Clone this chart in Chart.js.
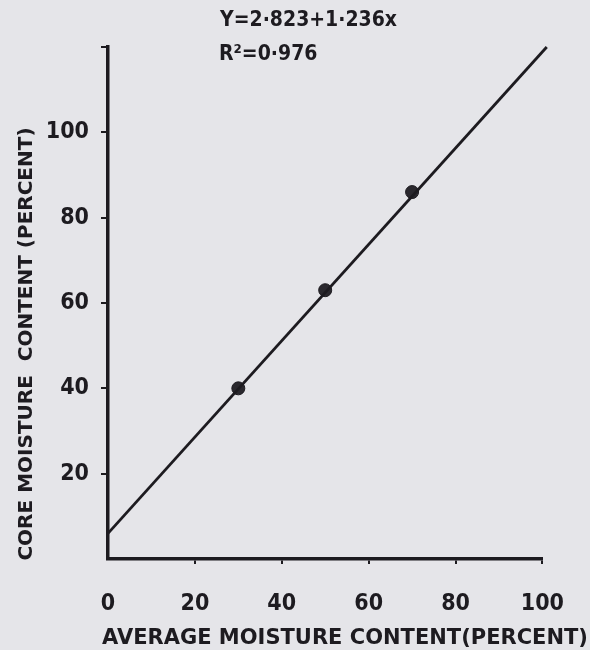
<!DOCTYPE html>
<html lang="en">
<head>
  <meta charset="UTF-8">
  <title>Core vs average moisture content</title>
  <script src="https://cdn.jsdelivr.net/npm/chart.js"></script>
  <style>
    html, body { margin: 0; padding: 0; background: #e5e5e9; }
    #wrap { width: 590px; height: 650px; }
  </style>
</head>
<body>
  <div id="wrap"><canvas id="moistChart" width="590" height="650"></canvas></div>
  <script>
    // observed points (average vs core moisture, percent)
    const avgMoisture = [30, 50, 70];
    const coreMoisture = [40, 63, 86];
    // fitted line as drawn on the figure
    const fitX = [0, 101];
    const fitY = [6, 120];
    const xTicks = [0, 20, 40, 60, 80, 100];
    const yTicks = [20, 40, 60, 80, 100];

    const xTitle = 'AVERAGE MOISTURE CONTENT(PERCENT)';
    const yTitle = 'CORE MOISTURE  CONTENT (PERCENT)';

    const ink = '#1d1b20';
    const tickFont = 'DejaVu Sans Condensed';
    const titleFont = 'DejaVu Sans';

    const pad = { left: 0, right: 42, top: 47, bottom: 0 };

    // equation, R² and the two axis titles
    const textBits = {
      id: 'textBits',
      afterDraw(chart) {
        const ctx = chart.ctx;
        ctx.save();
        ctx.fillStyle = ink;
        ctx.textBaseline = 'middle';
        ctx.font = 'bold 21px "' + tickFont + '"';
        ctx.fillText('Y=2\u00b7823+1\u00b7236x', 220, 21);
        ctx.fillText('R\u00b2=0\u00b7976', 219, 55);

        ctx.textAlign = 'center';
        ctx.font = 'bold 21px "' + titleFont + '"';
        ctx.fillText(xTitle, 345, 639);
        ctx.font = 'bold 20px "' + titleFont + '"';
        ctx.translate(27, 344);
        ctx.rotate(-Math.PI / 2);
        ctx.fillText(yTitle, 0, 0);
        ctx.restore();
      }
    };

    new Chart(document.getElementById('moistChart'), {
      type: 'scatter',
      data: {
        datasets: [
          {
            label: 'fit',
            data: fitX.map((x, i) => ({ x: x, y: fitY[i] })),
            showLine: true,
            borderColor: ink,
            borderWidth: 2.8,
            pointRadius: 0,
            clip: false
          },
          {
            label: 'observed',
            data: avgMoisture.map((x, i) => ({ x: x, y: coreMoisture[i] })),
            backgroundColor: '#2a282e',
            borderColor: ink,
            pointRadius: 6.5
          }
        ]
      },
      options: {
        responsive: false,
        animation: false,
        layout: { padding: pad },
        plugins: { legend: { display: false }, tooltip: { enabled: false } },
        scales: {
          x: {
            type: 'linear',
            min: 0,
            max: 100,
            afterBuildTicks(scale) { scale.ticks = xTicks.map(v => ({ value: v })); },
            afterFit(scale) { scale.height = 91; },
            grid: {
              drawOnChartArea: false, drawTicks: true, tickLength: 5, lineWidth: 2,
              color: c => (c.tick && c.tick.value === 0 ? 'rgba(0,0,0,0)' : ink)
            },
            border: { display: true, color: ink, width: 3.5 },
            ticks: { color: ink, padding: 26, font: { family: tickFont, size: 23, weight: 'bold' } },
            title: { display: false }
          },
          y: {
            type: 'linear',
            min: 0,
            max: 120,
            afterBuildTicks(scale) { scale.ticks = [0].concat(yTicks, [120]).map(v => ({ value: v })); },
            afterFit(scale) { scale.width = 108; },
            grid: {
              drawOnChartArea: false, drawTicks: true, tickLength: 7, lineWidth: 2,
              color: c => (c.tick && c.tick.value === 0 ? 'rgba(0,0,0,0)' : ink)
            },
            border: { display: true, color: ink, width: 3.5 },
            ticks: {
              color: ink,
              padding: 12,
              font: { family: tickFont, size: 23, weight: 'bold' },
              callback: v => (yTicks.includes(v) ? v : '')
            },
            title: { display: false }
          }
        }
      },
      plugins: [textBits]
    });
  </script>
</body>
</html>
